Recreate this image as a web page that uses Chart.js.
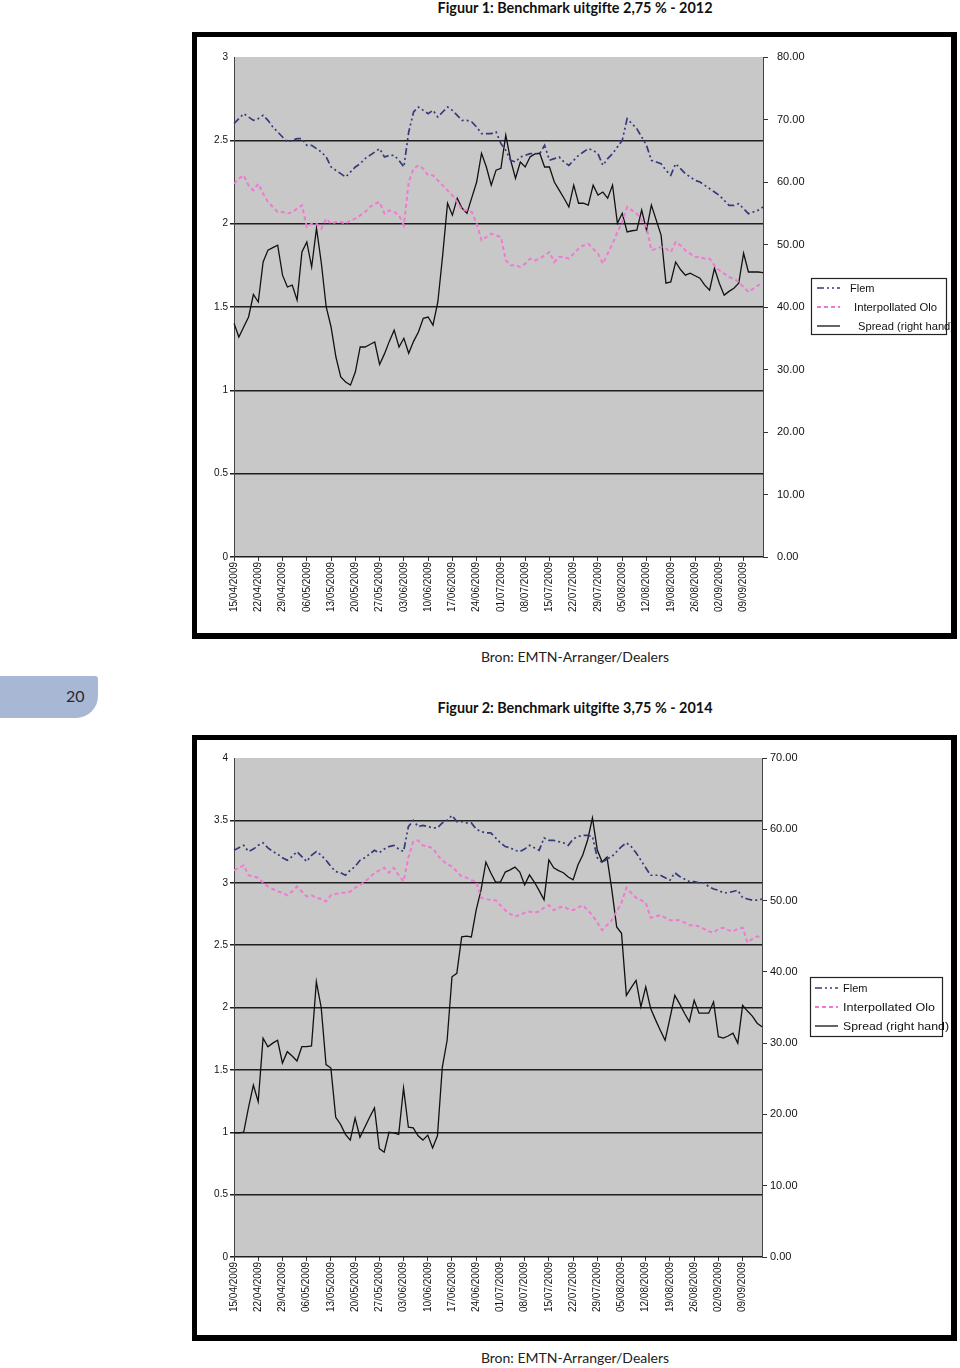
<!DOCTYPE html>
<html>
<head>
<meta charset="utf-8">
<script src="https://cdn.jsdelivr.net/npm/chart.js@4.4.0/dist/chart.umd.min.js"></script>
<style>
  body { margin: 0; background: #fff; }
  #page { position: relative; width: 960px; height: 1368px; overflow: hidden; background: #fff; }
  .title { position: absolute; left: 375px; width: 400px; text-align: center; font-family: Lato, 'Open Sans', sans-serif; font-weight: 700; font-size: 14.4px; color: #111; }
  .bron { position: absolute; left: 375px; width: 400px; text-align: center; font-family: Lato, 'Open Sans', sans-serif; font-size: 14px; color: #222; }
  .frame { position: absolute; left: 192px; width: 765px; box-sizing: border-box; border-style: solid; border-color: #000; border-width: 5px 6px 6px 5px; background: #fff; overflow: hidden; }
  .frame canvas { position: absolute; left: 0; top: 0; }
  .frame svg { position: absolute; overflow: visible; }
  .legtxt { font-family: 'Liberation Sans Narrow', 'Liberation Sans', Arial, sans-serif; font-size: 11px; fill: #111; }
  #tab { position: absolute; left: 0; top: 676px; width: 98px; height: 42px; background: #a8b7d4; border-radius: 0 3px 22px 0; }
  #tab span { position: absolute; left: 66px; top: 10px; font-family: Lato, sans-serif; font-size: 16px; color: #2a2a2a; }
</style>
</head>
<body>
<div id="page">
  <div class="title" style="top:-1px;">Figuur 1: Benchmark uitgifte 2,75 % - 2012</div>

  <div class="frame" style="top:32px; height:607px;">
    <canvas id="chart2012" width="754" height="596"></canvas>
    <svg style="left:614px; top:241px;" width="140" height="58">
      <rect x="0.5" y="0.5" width="135" height="56" fill="#fff" stroke="#222" stroke-width="1.2"/>
      <line x1="6" y1="10" x2="29" y2="10" stroke="#363a7c" stroke-width="1.7" stroke-dasharray="7 3 2 3 2 3"/>
      <text class="legtxt" x="39" y="14">Flem</text>
      <line x1="6" y1="29" x2="29" y2="29" stroke="#f07ad2" stroke-width="2" stroke-dasharray="4 3"/>
      <text class="legtxt" x="43" y="33" textLength="83" lengthAdjust="spacingAndGlyphs">Interpollated Olo</text>
      <line x1="6" y1="48" x2="29" y2="48" stroke="#111" stroke-width="1.3"/>
      <text class="legtxt" x="47" y="52" textLength="96" lengthAdjust="spacingAndGlyphs">Spread (right hand)</text>
    </svg>
  </div>

  <div class="bron" style="top:648px;">Bron: EMTN-Arranger/Dealers</div>

  <div id="tab"><span>20</span></div>

  <div class="title" style="top:699px;">Figuur 2: Benchmark uitgifte 3,75 % - 2014</div>

  <div class="frame" style="top:735px; height:606px;">
    <canvas id="chart2014" width="754" height="595"></canvas>
    <svg style="left:613px; top:237px;" width="140" height="62">
      <rect x="0.5" y="0.5" width="132" height="59" fill="#fff" stroke="#222" stroke-width="1.2"/>
      <line x1="5" y1="11" x2="28" y2="11" stroke="#363a7c" stroke-width="1.7" stroke-dasharray="7 3 2 3 2 3"/>
      <text class="legtxt" x="33" y="15">Flem</text>
      <line x1="5" y1="30" x2="28" y2="30" stroke="#f07ad2" stroke-width="2" stroke-dasharray="4 3"/>
      <text class="legtxt" x="33" y="34" textLength="92" lengthAdjust="spacingAndGlyphs">Interpollated Olo</text>
      <line x1="5" y1="49" x2="28" y2="49" stroke="#111" stroke-width="1.3"/>
      <text class="legtxt" x="33" y="53" textLength="106" lengthAdjust="spacingAndGlyphs">Spread (right hand)</text>
    </svg>
  </div>

  <div class="bron" style="top:1349px;">Bron: EMTN-Arranger/Dealers</div>
</div>

<script>
// weekly tick labels (every 5th business day)
const weekLabels = ['15/04/2009', '22/04/2009', '29/04/2009', '06/05/2009', '13/05/2009', '20/05/2009',
    '27/05/2009', '03/06/2009', '10/06/2009', '17/06/2009', '24/06/2009', '01/07/2009', '08/07/2009',
    '15/07/2009', '22/07/2009', '29/07/2009', '05/08/2009', '12/08/2009', '19/08/2009', '26/08/2009',
    '02/09/2009', '09/09/2009'];

// one category per business day, only the weekly ones carry a label
const categories = weekLabels.flatMap(w => [w, '', '', '', '']);

// Figuur 1 - 2,75 % 2012
const flem2012 = [2.60, 2.63, 2.66, 2.64, 2.62, 2.63, 2.65, 2.62, 2.58, 2.55,
    2.52, 2.49, 2.50, 2.51, 2.51, 2.47, 2.47, 2.45, 2.43, 2.40,
    2.34, 2.32, 2.30, 2.28, 2.31, 2.34, 2.36, 2.39, 2.41, 2.43,
    2.45, 2.40, 2.41, 2.41, 2.38, 2.34, 2.55, 2.67, 2.70, 2.68,
    2.66, 2.68, 2.64, 2.67, 2.70, 2.68, 2.65, 2.62, 2.62, 2.61,
    2.58, 2.54, 2.54, 2.54, 2.55, 2.48, 2.44, 2.38, 2.37, 2.40,
    2.41, 2.42, 2.42, 2.42, 2.47, 2.38, 2.39, 2.40, 2.37, 2.35,
    2.38, 2.41, 2.43, 2.45, 2.44, 2.42, 2.35, 2.39, 2.42, 2.46,
    2.50, 2.63, 2.60, 2.57, 2.52, 2.47, 2.38, 2.37, 2.36, 2.32,
    2.29, 2.36, 2.33, 2.30, 2.28, 2.26, 2.25, 2.23, 2.21, 2.19,
    2.17, 2.14, 2.11, 2.11, 2.12, 2.09, 2.06, 2.07, 2.08, 2.10];
const olo2012 = [2.24, 2.27, 2.29, 2.23, 2.20, 2.24, 2.18, 2.13, 2.10, 2.07,
    2.07, 2.06, 2.07, 2.09, 2.11, 1.98, 2.00, 2.00, 1.97, 2.03,
    2.00, 2.01, 2.01, 2.00, 2.02, 2.03, 2.05, 2.07, 2.10, 2.12,
    2.13, 2.06, 2.08, 2.07, 2.05, 1.99, 2.25, 2.33, 2.35, 2.33,
    2.29, 2.29, 2.26, 2.23, 2.20, 2.17, 2.13, 2.08, 2.08, 2.07,
    2.00, 1.90, 1.92, 1.94, 1.93, 1.92, 1.78, 1.75, 1.75, 1.74,
    1.76, 1.79, 1.78, 1.79, 1.81, 1.83, 1.77, 1.80, 1.80, 1.79,
    1.82, 1.85, 1.87, 1.88, 1.85, 1.82, 1.76, 1.82, 1.88, 1.95,
    2.01, 2.10, 2.08, 2.06, 2.02, 1.98, 1.84, 1.85, 1.86, 1.85,
    1.83, 1.89, 1.87, 1.84, 1.82, 1.80, 1.80, 1.79, 1.79, 1.75,
    1.72, 1.70, 1.68, 1.67, 1.65, 1.62, 1.59, 1.61, 1.63, 1.64];
const spread2012 = [37.4, 35.2, 36.8, 38.4, 42.0, 40.8, 47.2, 49.1, 49.5, 49.9,
    45.1, 43.2, 43.5, 41.1, 48.8, 50.4, 46.4, 52.6, 47.0, 40.0,
    36.8, 32.0, 28.8, 28.0, 27.5, 29.6, 33.6, 33.6, 34.0, 34.4,
    30.8, 32.5, 34.5, 36.3, 33.6, 35.0, 32.6, 34.5, 36.0, 38.2,
    38.4, 37.1, 40.8, 48.3, 56.6, 54.7, 57.4, 55.8, 55.0, 57.5,
    60.0, 64.6, 62.4, 59.5, 61.9, 62.2, 67.5, 63.5, 60.6, 63.2,
    62.4, 64.0, 64.5, 64.6, 62.4, 62.4, 60.0, 58.7, 57.4, 56.0,
    59.5, 56.6, 56.6, 56.3, 59.5, 57.9, 58.4, 57.4, 59.5, 53.4,
    55.0, 52.0, 52.2, 52.3, 55.5, 52.3, 56.3, 53.9, 51.5, 43.8,
    44.0, 47.2, 46.0, 45.1, 45.4, 45.0, 44.6, 43.5, 42.7, 46.2,
    43.8, 41.9, 42.5, 43.0, 43.8, 48.6, 45.6, 45.6, 45.6, 45.5];

// Figuur 2 - 3,75 % 2014
const flem2014 = [3.26, 3.28, 3.30, 3.25, 3.27, 3.30, 3.32, 3.28, 3.25, 3.23,
    3.20, 3.18, 3.21, 3.25, 3.21, 3.17, 3.22, 3.25, 3.22, 3.18,
    3.13, 3.09, 3.08, 3.06, 3.10, 3.13, 3.18, 3.20, 3.23, 3.26,
    3.24, 3.27, 3.29, 3.30, 3.27, 3.25, 3.45, 3.50, 3.45, 3.46,
    3.45, 3.44, 3.44, 3.48, 3.50, 3.54, 3.49, 3.49, 3.48, 3.48,
    3.43, 3.41, 3.40, 3.40, 3.36, 3.32, 3.29, 3.28, 3.26, 3.25,
    3.27, 3.30, 3.28, 3.26, 3.36, 3.34, 3.34, 3.33, 3.32, 3.30,
    3.35, 3.37, 3.38, 3.38, 3.37, 3.20, 3.16, 3.19, 3.21, 3.25,
    3.29, 3.32, 3.29, 3.24, 3.18, 3.12, 3.06, 3.06, 3.06, 3.04,
    3.02, 3.08, 3.05, 3.03, 3.01, 3.01, 3.00, 3.00, 2.97, 2.95,
    2.94, 2.92, 2.92, 2.93, 2.94, 2.88, 2.87, 2.86, 2.86, 2.87];
const olo2014 = [3.10, 3.12, 3.14, 3.06, 3.05, 3.04, 3.00, 2.97, 2.95, 2.93,
    2.92, 2.90, 2.93, 2.97, 2.93, 2.89, 2.90, 2.88, 2.87, 2.85,
    2.90, 2.91, 2.92, 2.92, 2.93, 2.96, 2.98, 3.01, 3.04, 3.08,
    3.10, 3.12, 3.08, 3.12, 3.06, 3.01, 3.20, 3.33, 3.34, 3.30,
    3.29, 3.28, 3.22, 3.18, 3.15, 3.13, 3.09, 3.05, 3.04, 3.02,
    3.01, 2.88, 2.87, 2.86, 2.86, 2.82, 2.78, 2.75, 2.73, 2.74,
    2.76, 2.77, 2.76, 2.77, 2.80, 2.82, 2.78, 2.80, 2.81, 2.79,
    2.78, 2.80, 2.82, 2.78, 2.74, 2.68, 2.62, 2.66, 2.70, 2.77,
    2.84, 2.96, 2.92, 2.88, 2.86, 2.84, 2.72, 2.73, 2.74, 2.72,
    2.70, 2.70, 2.70, 2.68, 2.66, 2.66, 2.65, 2.63, 2.61, 2.60,
    2.63, 2.64, 2.62, 2.61, 2.63, 2.64, 2.52, 2.55, 2.57, 2.56];
const spread2014 = [17.4, 17.4, 17.5, 21.0, 24.1, 21.8, 30.7, 29.5, 30.0, 30.4,
    27.2, 28.8, 28.2, 27.5, 29.5, 29.5, 29.6, 38.6, 35.0, 27.0,
    26.5, 19.6, 18.6, 17.2, 16.4, 19.5, 16.8, 18.2, 19.6, 20.9,
    15.2, 14.7, 17.5, 17.4, 17.2, 23.7, 18.2, 18.1, 17.0, 16.4,
    17.1, 15.3, 17.0, 26.6, 30.4, 39.3, 39.8, 44.9, 45.0, 44.9,
    48.7, 51.5, 55.4, 53.9, 52.6, 52.6, 54.0, 54.3, 54.7, 54.0,
    52.2, 53.6, 52.6, 51.4, 50.1, 55.7, 54.6, 54.2, 53.9, 53.3,
    52.9, 55.0, 56.4, 58.5, 61.6, 57.1, 55.4, 56.1, 51.5, 46.3,
    45.4, 36.7, 37.8, 38.8, 35.1, 37.9, 34.9, 33.3, 31.8, 30.4,
    33.5, 36.7, 35.5, 34.2, 33.0, 36.0, 34.2, 34.2, 34.2, 35.8,
    30.9, 30.7, 31.0, 31.4, 30.0, 35.3, 34.5, 33.8, 32.8, 32.3];

const axisFont = "'Liberation Sans Narrow', 'Liberation Sans', Arial, sans-serif";

// grey plot area like the Excel original
const plotBg = {
    id: 'plotBg',
    beforeDraw(chart) {
        const { ctx, chartArea: a } = chart;
        ctx.save();
        ctx.fillStyle = '#c8c8c8';
        ctx.fillRect(a.left, a.top, a.right - a.left, a.bottom - a.top);
        ctx.restore();
    }
};

function buildChart(id, flem, olo, spread, leftMax, rightMax, box) {
    const ctx = document.getElementById(id).getContext('2d');
    return new Chart(ctx, {
        type: 'line',
        data: {
            labels: categories,
            datasets: [
                { label: 'Flem', data: flem, yAxisID: 'y', borderColor: '#363a7c', borderWidth: 1.7, borderDash: [7, 3, 2, 3, 2, 3] },
                { label: 'Interpollated Olo', data: olo, yAxisID: 'y', borderColor: '#f07ad2', borderWidth: 2, borderDash: [4, 3] },
                { label: 'Spread (right hand)', data: spread, yAxisID: 'y1', borderColor: '#111', borderWidth: 1.3 }
            ]
        },
        options: {
            responsive: false,
            animation: false,
            layout: { padding: { top: box.top, right: box.rightPad, left: 0, bottom: 0 } },
            elements: { point: { radius: 0 }, line: { tension: 0 } },
            plugins: { legend: { display: false }, tooltip: { enabled: false } },
            scales: {
                x: {
                    offset: false,
                    grid: { drawOnChartArea: false, tickLength: 4, color: '#333' },
                    border: { display: false },
                    ticks: {
                        autoSkip: false, minRotation: 90, maxRotation: 90, padding: 1,
                        color: '#111', font: { family: axisFont, size: 10 },
                        callback: (v, i) => categories[i] || null
                    },
                    afterFit: s => { s.height = box.xHeight; }
                },
                y: {
                    position: 'left', min: 0, max: leftMax,
                    ticks: { stepSize: 0.5, padding: 2, color: '#111', font: { family: axisFont, size: 10 }, callback: v => String(v) },
                    grid: { color: c => c.tick.value === leftMax ? 'transparent' : '#1e1e1e', lineWidth: 1.5, tickLength: 4 },
                    border: { display: true, color: '#444' },
                    afterFit: s => { s.width = 37; }
                },
                y1: {
                    position: 'right', min: 0, max: rightMax,
                    ticks: { stepSize: 10, padding: box.rightLabelPad, color: '#111', font: { family: axisFont, size: 11 }, callback: v => v.toFixed(2) },
                    grid: { drawOnChartArea: false, tickLength: 5, color: '#333' },
                    border: { display: true, color: '#444' },
                    afterFit: s => { s.width = box.rightWidth; }
                }
            }
        },
        plugins: [plotBg]
    });
}

document.addEventListener('DOMContentLoaded', function() {
    buildChart('chart2012', flem2012, olo2012, spread2012, 3, 80,
        { top: 20, xHeight: 76, rightWidth: 60, rightPad: 128, rightLabelPad: 9 });
    buildChart('chart2014', flem2014, olo2014, spread2014, 4, 70,
        { top: 18, xHeight: 78, rightWidth: 60, rightPad: 129, rightLabelPad: 3 });
});
</script>
</body>
</html>
